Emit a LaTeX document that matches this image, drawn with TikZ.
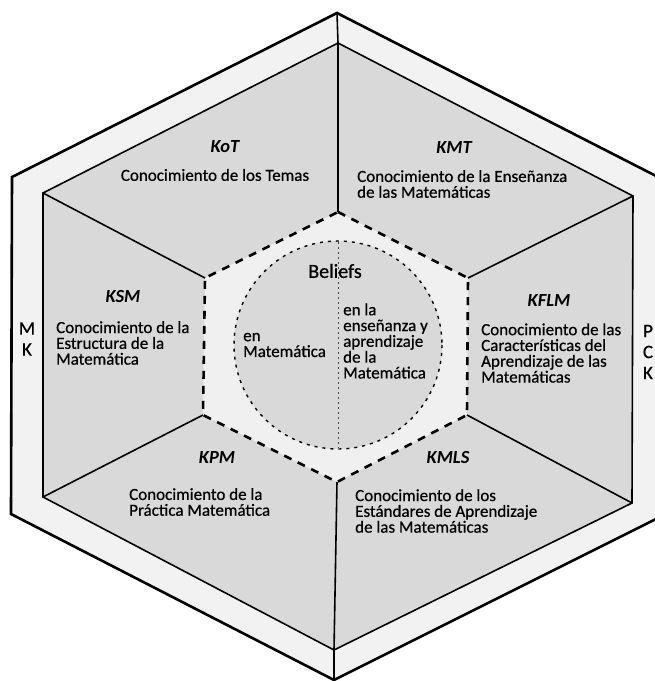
\documentclass[tikz,border=0pt]{standalone}
\usepackage{fontspec}
\setmainfont{Carlito}
\newfontfamily\scanfont{Carlito}[FakeBold=0.6]
\usetikzlibrary{positioning}

\definecolor{ringgray}{gray}{0.95}
\definecolor{panelgray}{gray}{0.85}
\definecolor{coregray}{gray}{0.94}

\begin{document}
\begin{tikzpicture}[x=1pt, y=-1pt]
  % --- Styles ---
    \tikzset{
      outerhex/.style = {draw, fill=ringgray, line width=2.6pt, line join=miter},
      innerhex/.style = {draw, fill=panelgray, line width=1.6pt, line join=miter},
      spoke/.style    = {line width=1.6pt},
      corehex/.style  = {line width=2.6pt, dash pattern=on 8pt off 7pt},
      beliefring/.style = {line width=1.4pt, dash pattern=on 3pt off 5pt},
      split/.style    = {line width=0.8pt, black!70, dash pattern=on 2pt off 3pt},
      domlab/.style   = {font=\fontsize{18.5}{20}\selectfont\bfseries\itshape, inner sep=0pt},
      domtxt/.style   = {font=\scanfont\fontsize{17}{15.8}\selectfont, align=left, inner sep=0pt},
      side/.style     = {font=\scanfont\fontsize{19}{21}\selectfont, align=center, inner sep=0pt}
    }

    \useasboundingbox (0,0) rectangle (655,681);
    \clip (0,0) rectangle (655,681);

    % --- Hexagon corners: outer frame, inner frame, dashed core ---
    \coordinate (oT)  at (337,13);   \coordinate (oUR) at (662,179);
    \coordinate (oLR) at (662,516);  \coordinate (oB)  at (334,680);
    \coordinate (oLL) at (11,514);   \coordinate (oUL) at (12,177);

    \coordinate (iT)  at (338,43);   \coordinate (iUR) at (633,196);
    \coordinate (iLR) at (632,503);  \coordinate (iB)  at (334,650);
    \coordinate (iLL) at (43,497);   \coordinate (iUL) at (43,193);

    \coordinate (dT)  at (338,212);  \coordinate (dUR) at (468,278);
    \coordinate (dLR) at (467,415);  \coordinate (dB)  at (337,482);
    \coordinate (dLL) at (203,415);  \coordinate (dUL) at (205,278);

    \coordinate (cc) at (338,345);
    \coordinate (cTop) at (338,242);
    \coordinate (cBot) at (338,448);

    % --- Frames ---
    \draw[outerhex] (oT) -- (oUR) -- (oLR) -- (oB) -- (oLL) -- (oUL) -- cycle;
    \draw[innerhex] (iT) -- (iUR) -- (iLR) -- (iB) -- (iLL) -- (iUL) -- cycle;
    \fill[coregray] (dT) -- (dUR) -- (dLR) -- (dB) -- (dLL) -- (dUL) -- cycle;
    \fill[panelgray] (cc) circle (104);

    % --- Spokes between the six domains ---
    \draw[spoke] (oT) -- (iT) -- (dT);
    \draw[spoke] (iUR) -- (dUR);
    \draw[spoke] (iLR) -- (dLR);
    \draw[spoke] (oB) -- (iB) -- (dB);
    \draw[spoke] (iLL) -- (dLL);
    \draw[spoke] (iUL) -- (dUL);

    % --- Beliefs core ---
    \draw[corehex] (dT) -- (dUR) -- (dLR) -- (dB) -- (dLL) -- (dUL) -- cycle;
    \draw[beliefring] (cc) circle (104);
    \draw[split] (cTop) -- (cBot);

    % --- Domain labels ---
    \node[domlab] (kot) at (225,147) {KoT};
    \node[domtxt] (kotT) at (215,175) {Conocimiento de los Temas};

    \node[domlab] (kmt) at (454,147) {KMT};
    \node[domtxt, anchor=west] (kmtT) at (357,184) {Conocimiento de la Enseñanza\\de las Matemáticas};

    \node[domlab] (ksm) at (123,297) {KSM};
    \node[domtxt, anchor=west] (ksmT) at (56,343) {Conocimiento de la\\Estructura de la\\Matemática};

    \node[domlab] (kflm) at (549,300) {KFLM};
    \node[domtxt, anchor=west] (kflmT) at (481,353) {Conocimiento de las\\Características del\\Aprendizaje de las\\Matemáticas};

    \node[domlab] (kpm) at (217,457) {KPM};
    \node[domtxt, anchor=west] (kpmT) at (129,502) {Conocimiento de la\\Práctica Matemática};

    \node[domlab] (kmls) at (448,457) {KMLS};
    \node[domtxt, anchor=west] (kmlsT) at (355,511) {Conocimiento de los\\Estándares de Aprendizaje\\de las Matemáticas};

    % --- Beliefs texts ---
    \node[font=\scanfont\fontsize{20}{22}\selectfont, inner sep=0pt] (bel) at (335,271) {Beliefs};
    \node[domtxt, anchor=west] (belM) at (243,345) {en\\Matemática};
    \node[domtxt, anchor=west] (belE) at (343,341) {en la\\enseñanza y\\aprendizaje\\de la\\Matemática};

    % --- Side letters ---
    \node[side] (mk) at (27,339) {M\\K};
    \node[side] (pck) at (648,352) {P\\C\\K};

\end{tikzpicture}
\end{document}
